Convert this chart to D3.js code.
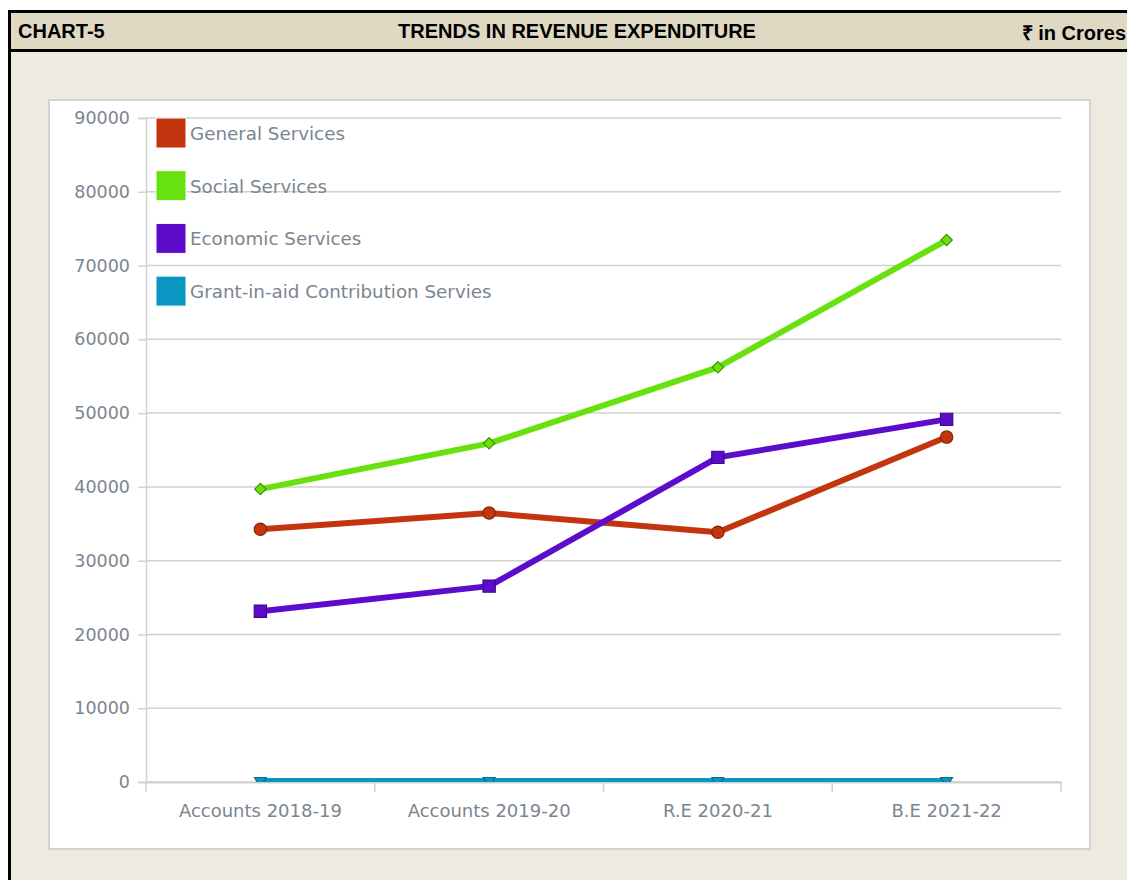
<!DOCTYPE html>
<html>
<head>
<meta charset="utf-8">
<script src="https://cdn.jsdelivr.net/npm/d3@7"></script>
<style>
  body { margin: 0; background: #fff; }
  #wrap { position: absolute; left: 8px; top: 10px; width: 1130px; height: 880px;
          border-left: 3px solid #000; border-top: 3px solid #000; background: #edebe0; }
  #head { height: 36px; background: #dfd9c4; border-bottom: 3px solid #000; position: relative;
          font-family: "Liberation Sans", Arial, sans-serif; font-weight: bold; font-size: 20px; }
  #head span { position: absolute; top: 7px; }
  #chart { position: absolute; left: 0; top: 0; }
</style>
</head>
<body>
<div id="wrap">
  <div id="head">
    <span style="left:7px">CHART-5</span>
    <span style="left:566px;transform:translateX(-50%)">TRENDS IN REVENUE EXPENDITURE</span>
    <span style="right:15px;top:6px">₹ in Crores</span>
  </div>
</div>
<svg id="chart" width="1127" height="880"></svg>
<script>
// values, ₹ crores
const categories = ['Accounts 2018-19', 'Accounts 2019-20', 'R.E 2020-21', 'B.E 2021-22'];
const generalServices = [34250, 36450, 33850, 46750];
const socialServices = [39700, 45900, 56200, 73450];
const economicServices = [23150, 26550, 44000, 49150];
const grantInAid = [150, 150, 150, 150];
const yTicks = [0, 10000, 20000, 30000, 40000, 50000, 60000, 70000, 80000, 90000];

const series = [
  {name: 'General Services', values: generalServices, color: '#c3350e', stroke: '#8a2208', marker: 'circle'},
  {name: 'Social Services', values: socialServices, color: '#67e20e', stroke: '#3f8f08', marker: 'diamond'},
  {name: 'Economic Services', values: economicServices, color: '#5e0ccc', stroke: '#3c0885', marker: 'square'},
  {name: 'Grant-in-aid Contribution Servies', values: grantInAid, color: '#0a96c3', stroke: '#066c8c', marker: 'triangle'}
];

const svg = d3.select('#chart');
const margin = {left: 146, top: 118, right: 66, bottom: 98};
const width = 1127 - margin.left - margin.right,
      height = 880 - margin.top - margin.bottom;

// white panel
svg.append('rect').attr('x', 49).attr('y', 100).attr('width', 1041).attr('height', 749)
  .attr('fill', '#fff').attr('stroke', '#d2d2d2').attr('stroke-width', 2);

svg.append('clipPath').attr('id', 'plot')
  .append('rect').attr('x', -20).attr('y', -20).attr('width', width + 40).attr('height', height + 20);

const x = d3.scaleBand().domain(categories).range([0, width]);
const y = d3.scaleLinear().domain([0, 90000]).range([height, 0]);

const g = svg.append('g').attr('transform', 'translate(' + margin.left + ',' + margin.top + ')');
const font = 'DejaVu Sans, Verdana, sans-serif';
const textColor = '#7b8590';

// grid
g.append('g').selectAll('line').data(yTicks).join('line')
  .attr('x1', 0).attr('x2', width)
  .attr('y1', d => y(d)).attr('y2', d => y(d))
  .attr('stroke', '#d0d0d0').attr('stroke-width', 1.5);

const yAxis = d3.axisLeft(y).tickValues(yTicks).tickSize(8).tickPadding(8).tickFormat(d3.format('d'));
const ya = g.append('g').call(yAxis);
ya.select('.domain').attr('stroke', '#d0d0d0').attr('stroke-width', 1.5);
ya.selectAll('.tick line').attr('stroke', '#d0d0d0').attr('stroke-width', 1.5);
ya.selectAll('text').attr('fill', textColor).style('font-family', font).style('font-size', '17.5px');

const xAxis = d3.axisBottom(x).tickSize(0).tickPadding(22);
const xa = g.append('g').attr('transform', 'translate(0,' + height + ')').call(xAxis);
xa.select('.domain').attr('stroke', '#d0d0d0').attr('stroke-width', 2);
xa.selectAll('text').attr('fill', textColor).style('font-family', font).style('font-size', '18px');
// tick marks at band edges
g.append('g').selectAll('line').data(d3.range(categories.length + 1)).join('line')
  .attr('x1', i => i * x.step()).attr('x2', i => i * x.step())
  .attr('y1', height).attr('y2', height + 10)
  .attr('stroke', '#d0d0d0').attr('stroke-width', 1.5);

const cx = d => x(d) + x.bandwidth() / 2;
const line = d3.line().x((d, i) => cx(categories[i])).y(d => y(d));

const symbols = {
  circle: d3.symbol(d3.symbolCircle, 120),
  diamond: d3.symbol(d3.symbolSquare, 64),
  square: d3.symbol(d3.symbolSquare, 150),
  triangle: d3.symbol(d3.symbolTriangle, 60)
};
const rot = {circle: '', diamond: ' rotate(45)', square: '', triangle: ' rotate(180)'};

const plot = g.append('g').attr('clip-path', 'url(#plot)');
series.forEach(s => {
  plot.append('path').attr('d', line(s.values)).attr('fill', 'none')
    .attr('stroke', s.color).attr('stroke-width', 6).attr('stroke-linejoin', 'round');
});
series.forEach(s => {
  plot.append('g').selectAll('path').data(s.values).join('path')
    .attr('d', symbols[s.marker])
    .attr('transform', (d, i) => 'translate(' + cx(categories[i]) + ',' + y(d) + ')' + rot[s.marker])
    .attr('fill', s.color).attr('stroke', s.stroke).attr('stroke-width', 1.2);
});

// legend
const legend = svg.append('g').attr('transform', 'translate(156,118)');
const li = legend.selectAll('g').data(series).join('g')
  .attr('transform', (d, i) => 'translate(0,' + (i * 52.7) + ')');
li.append('rect').attr('width', 30).attr('height', 30).attr('fill', d => d.color)
  .attr('stroke', '#fff').attr('stroke-width', 1);
li.append('text').attr('x', 34).attr('y', 22).text(d => d.name)
  .attr('fill', textColor).style('font-family', font).style('font-size', '18.3px');
</script>
</body>
</html>
